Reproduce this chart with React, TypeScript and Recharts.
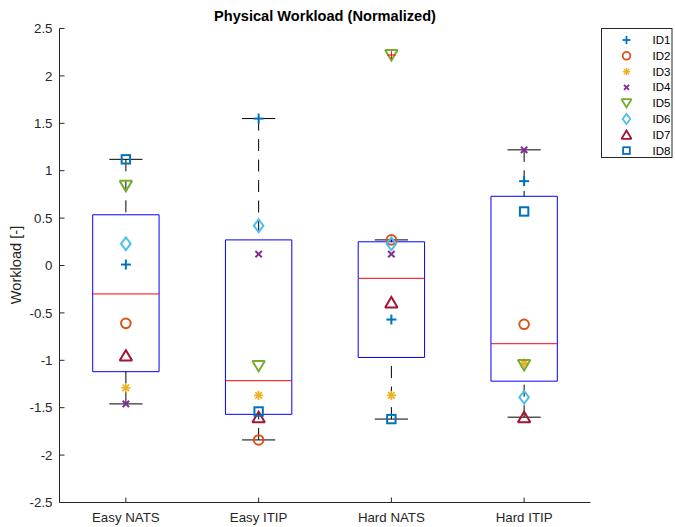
import React from "react";
import {
  ComposedChart,
  XAxis,
  YAxis,
  Scatter,
  ReferenceArea,
  ReferenceLine,
} from "recharts";

const categories = ["Easy NATS", "Easy ITIP", "Hard NATS", "Hard ITIP"];
const yTicks = [-2.5, -2, -1.5, -1, -0.5, 0, 0.5, 1, 1.5, 2, 2.5];
const idNames = ["ID1", "ID2", "ID3", "ID4", "ID5", "ID6", "ID7", "ID8"];

// one value per category
const id1 = [0.01, 1.55, -0.57, 0.89];
const id2 = [-0.61, -1.84, 0.27, -0.62];
const id3 = [-1.29, -1.37, -1.37, -1.03];
const id4 = [-1.46, 0.12, 0.12, 1.22];
const id5 = [0.84, -1.06, 2.22, -1.05];
const id6 = [0.23, 0.42, 0.23, -1.39];
const id7 = [-0.95, -1.6, -0.39, -1.6];
const id8 = [1.12, -1.54, -1.62, 0.57];

const idValues = [id1, id2, id3, id4, id5, id6, id7, id8];
const idColors = ["#0072BD", "#D95319", "#EDB120", "#7E2F8E", "#77AC30", "#4DBEEE", "#A2142F", "#0072BD"];
const idMarkers = ["plus", "circle", "asterisk", "cross", "triDown", "diamond", "triUp", "square"];

const font = "'Liberation Sans', Arial, Helvetica, sans-serif";
const axisColor = "#262626";

// matlab style percentile
function prctile(sorted: number[], p: number) {
  const n = sorted.length;
  const pos = (n * p) / 100 + 0.5;
  if (pos <= 1) return sorted[0];
  if (pos >= n) return sorted[n - 1];
  const lo = Math.floor(pos);
  const f = pos - lo;
  return sorted[lo - 1] + f * (sorted[lo] - sorted[lo - 1]);
}

const boxStats = categories.map((c, i) => {
  const vals = idValues.map((v) => v[i]).sort((a, b) => a - b);
  const q1 = prctile(vals, 25);
  const med = prctile(vals, 50);
  const q3 = prctile(vals, 75);
  const iqr = q3 - q1;
  const inside = vals.filter((v) => v >= q1 - 1.5 * iqr && v <= q3 + 1.5 * iqr);
  return {
    x: i + 1,
    q1,
    med,
    q3,
    lo: inside[0],
    hi: inside[inside.length - 1],
    outliers: vals.filter((v) => !inside.includes(v)),
  };
});

const outlierData = boxStats.flatMap((b) => b.outliers.map((y) => ({ x: b.x, y })));

function Marker({ kind, cx, cy, color, k = 1 }: any) {
  const sw = 2 * (k < 1 ? 0.9 : 1);
  const p = { fill: "none", stroke: color, strokeWidth: sw, strokeLinejoin: "miter" as const };
  switch (kind) {
    case "plus":
      return (
        <g {...p}>
          <line x1={cx - 5 * k} y1={cy} x2={cx + 5 * k} y2={cy} />
          <line x1={cx} y1={cy - 5 * k} x2={cx} y2={cy + 5 * k} />
        </g>
      );
    case "circle":
      return <circle cx={cx} cy={cy} r={4.8 * k} {...p} />;
    case "asterisk":
      return (
        <g {...p} strokeWidth={1.7 * k}>
          <line x1={cx - 4.6 * k} y1={cy} x2={cx + 4.6 * k} y2={cy} />
          <line x1={cx} y1={cy - 4.6 * k} x2={cx} y2={cy + 4.6 * k} />
          <line x1={cx - 3.3 * k} y1={cy - 3.3 * k} x2={cx + 3.3 * k} y2={cy + 3.3 * k} />
          <line x1={cx - 3.3 * k} y1={cy + 3.3 * k} x2={cx + 3.3 * k} y2={cy - 3.3 * k} />
        </g>
      );
    case "cross":
      return (
        <g {...p}>
          <line x1={cx - 3.2 * k} y1={cy - 3.2 * k} x2={cx + 3.2 * k} y2={cy + 3.2 * k} />
          <line x1={cx - 3.2 * k} y1={cy + 3.2 * k} x2={cx + 3.2 * k} y2={cy - 3.2 * k} />
        </g>
      );
    case "triDown":
      return (
        <polygon
          points={`${cx - 6.2 * k},${cy - 5 * k} ${cx + 6.2 * k},${cy - 5 * k} ${cx},${cy + 5.4 * k}`}
          {...p}
          strokeMiterlimit={2}
        />
      );
    case "triUp":
      return (
        <polygon
          points={`${cx - 6.2 * k},${cy + 5 * k} ${cx + 6.2 * k},${cy + 5 * k} ${cx},${cy - 5.4 * k}`}
          {...p}
          strokeMiterlimit={2}
        />
      );
    case "diamond":
      return (
        <polygon
          points={`${cx},${cy - 6.4 * k} ${cx + 4.8 * k},${cy} ${cx},${cy + 6.4 * k} ${cx - 4.8 * k},${cy}`}
          {...p}
          strokeMiterlimit={2}
        />
      );
    case "square":
      return <rect x={cx - 4.2 * k} y={cy - 4.2 * k} width={8.4 * k} height={8.4 * k} {...p} />;
    default:
      return null;
  }
}

const BottomTick = ({ x, y, payload }: any) => (
  <g>
    <line x1={x} y1={y} x2={x} y2={y - 5} stroke={axisColor} />
    <text x={x} y={y + 19} textAnchor="middle" fontSize={13.3} fontFamily={font} fill={axisColor}>
      {categories[payload.value - 1]}
    </text>
  </g>
);

const TopTick = ({ x, y }: any) => <line x1={x} y1={y} x2={x} y2={y + 5} stroke={axisColor} />;

const LeftTick = ({ x, y, payload }: any) => (
  <g>
    <line x1={x} y1={y} x2={x + 5} y2={y} stroke={axisColor} />
    <text x={x - 7} y={y} dy="0.35em" textAnchor="end" fontSize={13.3} fontFamily={font} fill={axisColor}>
      {String(payload.value)}
    </text>
  </g>
);

const RightTick = ({ x, y }: any) => <line x1={x} y1={y} x2={x - 5} y2={y} stroke={axisColor} />;

export default function App() {
  const boxes = boxStats.map((b) => (
    <ReferenceArea
      key={`box${b.x}`}
      xAxisId="b"
      yAxisId="l"
      x1={b.x - 0.25}
      x2={b.x + 0.25}
      y1={b.q1}
      y2={b.q3}
      fill="none"
      fillOpacity={0}
      stroke="#0000FF"
      strokeWidth={1}
    />
  ));
  const lines = boxStats.flatMap((b) => [
    <ReferenceLine
      key={`wu${b.x}`}
      xAxisId="b"
      yAxisId="l"
      segment={[{ x: b.x, y: b.hi }, { x: b.x, y: b.q3 }]}
      stroke="#000"
      strokeDasharray="12 8.5"
    />,
    <ReferenceLine
      key={`wl${b.x}`}
      xAxisId="b"
      yAxisId="l"
      segment={[{ x: b.x, y: b.lo }, { x: b.x, y: b.q1 }]}
      stroke="#000"
      strokeDasharray="12 8.5"
    />,
    <ReferenceLine
      key={`cu${b.x}`}
      xAxisId="b"
      yAxisId="l"
      segment={[{ x: b.x - 0.125, y: b.hi }, { x: b.x + 0.125, y: b.hi }]}
      stroke="#000"
    />,
    <ReferenceLine
      key={`cl${b.x}`}
      xAxisId="b"
      yAxisId="l"
      segment={[{ x: b.x - 0.125, y: b.lo }, { x: b.x + 0.125, y: b.lo }]}
      stroke="#000"
    />,
    <ReferenceLine
      key={`md${b.x}`}
      xAxisId="b"
      yAxisId="l"
      segment={[{ x: b.x - 0.25, y: b.med }, { x: b.x + 0.25, y: b.med }]}
      stroke="#FF0000"
    />,
  ]);

  return (
    <div style={{ position: "absolute", left: 0, top: 0, width: 675, height: 527, background: "#fff" }}>
      <ComposedChart width={675} height={527} margin={{ top: 28.5, right: 84.5, bottom: 0, left: 0 }}>
        <XAxis
          xAxisId="b"
          type="number"
          dataKey="x"
          domain={[0.5, 4.5]}
          ticks={[1, 2, 3, 4]}
          interval={0}
          height={24.5}
          tickSize={0}
          tickMargin={0}
          tickLine={false}
          axisLine={{ stroke: axisColor }}
          tick={BottomTick}
        />
        <XAxis
          xAxisId="t"
          orientation="top"
          type="number"
          domain={[0.5, 4.5]}
          ticks={[1, 2, 3, 4]}
          interval={0}
          height={0}
          tickSize={0}
          tickMargin={0}
          tickLine={false}
          axisLine={{ stroke: axisColor }}
          tick={TopTick}
        />
        <YAxis
          yAxisId="l"
          type="number"
          dataKey="y"
          domain={[-2.5, 2.5]}
          ticks={yTicks}
          interval={0}
          width={59.5}
          tickSize={0}
          tickMargin={0}
          tickLine={false}
          axisLine={{ stroke: axisColor }}
          tick={LeftTick}
        />
        <YAxis
          yAxisId="r"
          orientation="right"
          type="number"
          domain={[-2.5, 2.5]}
          ticks={yTicks}
          interval={0}
          width={0}
          tickSize={0}
          tickMargin={0}
          tickLine={false}
          axisLine={{ stroke: axisColor }}
          tick={RightTick}
        />
        {boxes}
        {lines}
        {idValues.map((vals, j) => (
          <Scatter
            key={idNames[j]}
            name={idNames[j]}
            xAxisId="b"
            yAxisId="l"
            data={vals.map((y, i) => ({ x: i + 1, y }))}
            isAnimationActive={false}
            shape={(props: any) => (
              <Marker kind={idMarkers[j]} cx={props.cx} cy={props.cy} color={idColors[j]} />
            )}
          />
        ))}
        <Scatter
          name="outliers"
          xAxisId="b"
          yAxisId="l"
          data={outlierData}
          isAnimationActive={false}
          shape={(props: any) => (
            <g stroke="#FF0000" strokeWidth={1}>
              <line x1={props.cx - 4} y1={props.cy} x2={props.cx + 4} y2={props.cy} />
              <line x1={props.cx} y1={props.cy - 4} x2={props.cx} y2={props.cy + 4} />
            </g>
          )}
        />
      </ComposedChart>
      <svg
        width={675}
        height={527}
        style={{ position: "absolute", left: 0, top: 0, pointerEvents: "none" }}
      >
        <text x={325} y={21} textAnchor="middle" fontSize={14.6} fontWeight="bold" fontFamily={font} fill="#000">
          Physical Workload (Normalized)
        </text>
        <text
          x={0}
          y={0}
          transform="translate(16,265) rotate(-90)"
          dy="0.35em"
          textAnchor="middle"
          fontSize={14.6}
          fontFamily={font}
          fill={axisColor}
        >
          Workload [-]
        </text>
        <rect x={601.5} y={28.5} width={70.5} height={129} fill="#fff" stroke={axisColor} strokeWidth={1} />
        {idNames.map((n, j) => (
          <g key={n}>
            <Marker kind={idMarkers[j]} cx={626.5} cy={40 + 15.8 * j} color={idColors[j]} k={0.8} />
            <text x={652.5} y={40 + 15.8 * j} dy="0.35em" fontSize={11.5} fontFamily={font} fill="#000">
              {n}
            </text>
          </g>
        ))}
      </svg>
    </div>
  );
}
